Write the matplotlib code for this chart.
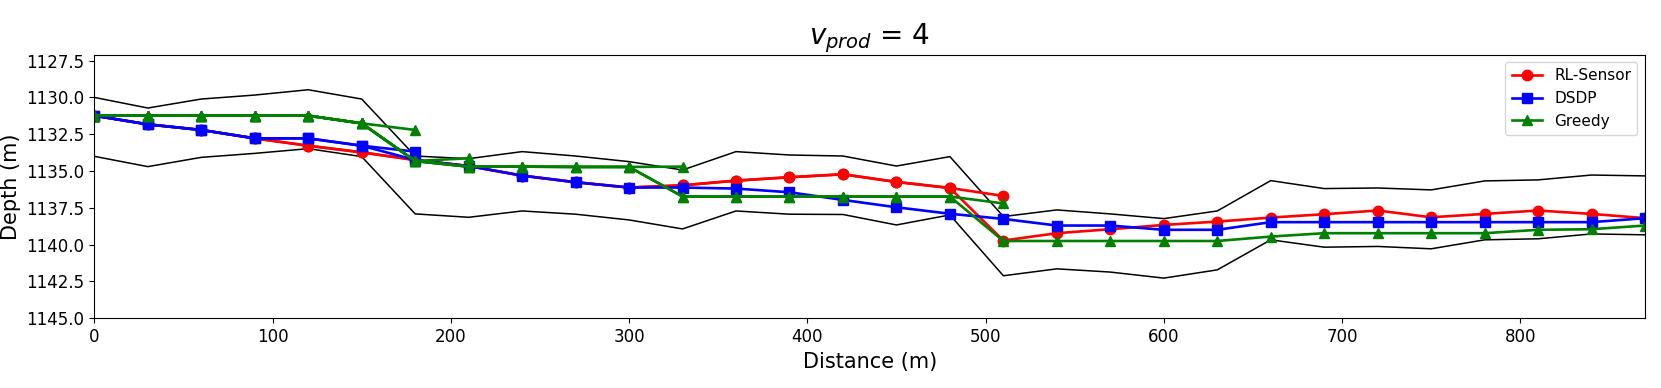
import matplotlib
matplotlib.use("Agg")
import matplotlib.pyplot as plt

distance = [0, 30, 60, 90, 120, 150, 180, 210, 240, 270, 300, 330, 360, 390, 420,
            450, 480, 510, 540, 570, 600, 630, 660, 690, 720, 750, 780, 810, 840, 870]

upper_bound = [1130.0, 1130.72, 1130.11, 1129.84, 1129.48, 1130.11, 1133.98, 1134.16,
               1133.68, 1133.98, 1134.36, 1134.93, 1133.68, 1133.91, 1133.98, 1134.66,
               1134.02, 1138.09, 1137.64, 1137.91, 1138.23, 1137.71, 1135.65, 1136.19,
               1136.15, 1136.28, 1135.67, 1135.60, 1135.27, 1135.33]
lower_bound = [1134.0, 1134.70, 1134.07, 1133.80, 1133.48, 1134.02, 1137.91, 1138.14,
               1137.71, 1137.93, 1138.32, 1138.93, 1137.71, 1137.93, 1137.95, 1138.66,
               1137.98, 1142.11, 1141.64, 1141.86, 1142.27, 1141.71, 1139.67, 1140.17,
               1140.12, 1140.28, 1139.67, 1139.60, 1139.27, 1139.33]

rl_sensor = [1131.24, 1131.83, 1132.21, 1132.78, 1133.28, 1133.73, 1134.25, 1134.66,
             1135.31, 1135.76, 1136.12, 1135.97, 1135.65, 1135.42, 1135.22, 1135.74,
             1136.15, 1139.72, 1139.22, 1138.95, 1138.66, 1138.43, 1138.16, 1137.93,
             1137.68, 1138.14, 1137.91, 1137.68, 1137.91, 1138.20]
dsdp = [1131.24, 1131.83, 1132.21, 1132.78, 1132.78, 1133.28, 1134.25, 1134.66,
        1135.31, 1135.76, 1136.12, 1136.12, 1136.19, 1136.44, 1136.96, 1137.46,
        1137.90, 1138.25, 1138.70, 1138.70, 1138.99, 1138.99, 1138.47, 1138.47,
        1138.47, 1138.47, 1138.47, 1138.47, 1138.47, 1138.20]
greedy = [1131.24, 1131.24, 1131.24, 1131.24, 1131.24, 1131.76, 1134.32, 1134.70,
          1134.70, 1134.72, 1134.72, 1136.73, 1136.73, 1136.73, 1136.73, 1136.73,
          1136.73, 1139.75, 1139.75, 1139.75, 1139.75, 1139.75, 1139.45, 1139.22,
          1139.22, 1139.22, 1139.22, 1138.99, 1138.95, 1138.70]

# earlier planned segments: (index of planned point, planned depth)
rl_sensor_plans = [(17, 1136.69)]
dsdp_plans = [(6, 1133.68)]
greedy_plans = [(6, 1132.21), (7, 1134.13), (11, 1134.70), (17, 1137.20)]

x_ticks = [0, 100, 200, 300, 400, 500, 600, 700, 800]
y_ticks = [1127.5, 1130.0, 1132.5, 1135.0, 1137.5, 1140.0, 1142.5, 1145.0]

fig = plt.figure(figsize=(16.61, 3.88), dpi=100)
ax = fig.add_axes([0.0568, 0.1796, 0.9336, 0.6794])

ax.plot(distance, upper_bound, color='black', lw=1.1)
ax.plot(distance, lower_bound, color='black', lw=1.1)

series = [
    ('RL-Sensor', rl_sensor, rl_sensor_plans, 'red', 'o'),
    ('DSDP', dsdp, dsdp_plans, 'blue', 's'),
    ('Greedy', greedy, greedy_plans, 'green', '^'),
]
for label, main, plans, color, marker in series:
    for idx, val in plans:
        ax.plot(distance[:idx + 1], main[:idx] + [val], color=color, marker=marker,
                lw=1.9, ms=7.5)
    ax.plot(distance, main, color=color, marker=marker, lw=1.9, ms=7.5, label=label)

ax.set_xlim(0, 870)
ax.set_ylim(1145, 1127.1)
ax.set_xticks(x_ticks)
ax.set_yticks(y_ticks)
ax.tick_params(labelsize=12)
ax.set_xlabel('Distance (m)', fontsize=15)
ax.set_ylabel('Depth (m)', fontsize=15)
ax.set_title(r'$v_{prod}$ = 4', fontsize=20)
ax.legend(loc='upper right', fontsize=11)

fig.savefig('out.png', dpi=100)
